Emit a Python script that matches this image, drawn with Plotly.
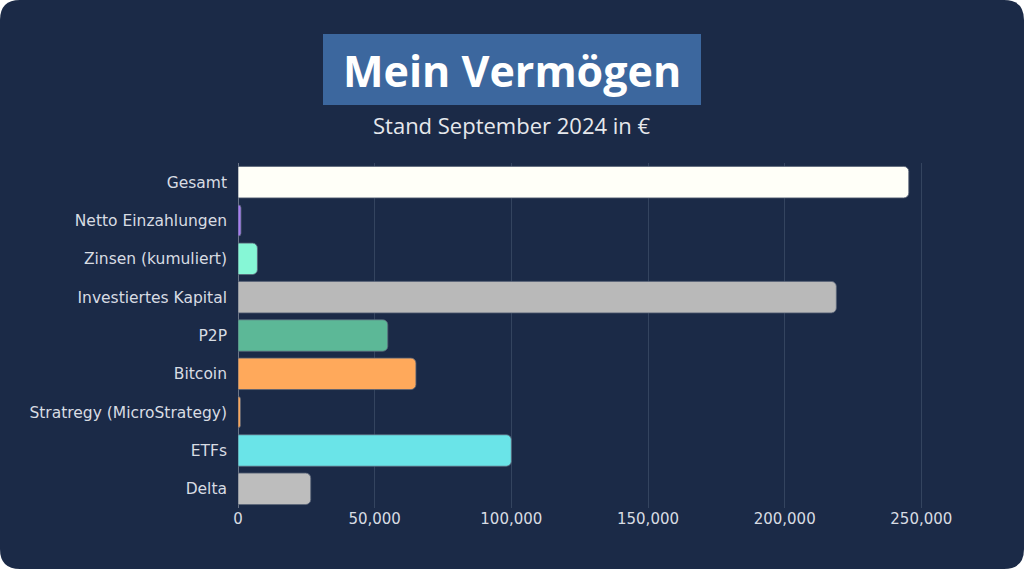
import plotly.graph_objects as go

# ---- data ----
categories = ["Gesamt", "Netto Einzahlungen", "Zinsen (kumuliert)", "Investiertes Kapital",
              "P2P", "Bitcoin", "Stratregy (MicroStrategy)", "ETFs", "Delta"]
values = [245400, 1100, 7100, 218900, 54800, 65100, 900, 100000, 26600]
bar_colors = ["#fffff8", "#a67df2", "#86f7d6", "#b9b9b9", "#5cb897",
              "#ffa95b", "#ffa95b", "#6ae4e8", "#bdbdbd"]
x_ticks = [0, 50000, 100000, 150000, 200000, 250000]
title_text = "Mein Vermögen"
subtitle_text = "Stand September 2024 in €"

W, H = 1024, 569
L, R, T, B = 238, 48, 163, 61
PW, PH = W - L - R, H - T - B
NAVY = "#1b2a47"
FONT = "Open Sans"
TICKFONT = "DejaVu Sans"
TICKCOLOR = "#d8dce3"


def px(x):
    return (x - L) / PW


def py(y):
    return (H - B - y) / PH


fig = go.Figure(go.Bar(
    x=values, y=categories, orientation="h",
    marker=dict(color=bar_colors, cornerradius=5,
                line=dict(color="rgba(90,100,120,0.8)", width=1)),
    width=0.82,
    hoverinfo="x+y",
))

# rounded background
r = 20
x0, x1, y0, y1 = 0, W, 0, H
pts = (
    f"M {px(x0 + r)} {py(y0)} L {px(x1 - r)} {py(y0)} "
    f"Q {px(x1)} {py(y0)} {px(x1)} {py(y0 + r)} "
    f"L {px(x1)} {py(y1 - r)} Q {px(x1)} {py(y1)} {px(x1 - r)} {py(y1)} "
    f"L {px(x0 + r)} {py(y1)} Q {px(x0)} {py(y1)} {px(x0)} {py(y1 - r)} "
    f"L {px(x0)} {py(y0 + r)} Q {px(x0)} {py(y0)} {px(x0 + r)} {py(y0)} Z"
)
shapes = [
    dict(type="path", xref="paper", yref="paper", path=pts,
         fillcolor=NAVY, line=dict(width=0), layer="below"),
    dict(type="rect", xref="paper", yref="paper",
         x0=px(323), x1=px(701), y0=py(105), y1=py(34),
         fillcolor="#3c679e", line=dict(width=0), layer="below"),
]

annotations = [
    dict(text=f"<b>{title_text}</b>", xref="paper", yref="paper",
         x=px(512), y=py(70), xanchor="center", yanchor="middle",
         showarrow=False, font=dict(family=FONT, size=43, color="#ffffff")),
    dict(text=subtitle_text, xref="paper", yref="paper",
         x=px(512), y=py(125), xanchor="center", yanchor="middle",
         showarrow=False, font=dict(family=FONT, size=22, color="#e6e8ec")),
]

fig.update_layout(
    width=W, height=H,
    margin=dict(l=L, r=R, t=T, b=B, pad=0),
    paper_bgcolor="#ffffff",
    plot_bgcolor="rgba(0,0,0,0)",
    shapes=shapes,
    annotations=annotations,
    showlegend=False,
    bargap=0.18,
    font=dict(family=TICKFONT, size=15, color=TICKCOLOR),
    xaxis=dict(range=[0, 270000], tickvals=x_ticks, tickformat=",",
               showgrid=True, gridcolor="#34445f", gridwidth=1,
               zeroline=True, zerolinecolor="#6b7588", zerolinewidth=1,
               showline=False, ticks="", tickfont=dict(family=TICKFONT, size=15, color=TICKCOLOR),
               fixedrange=True),
    yaxis=dict(autorange="reversed", showgrid=False, ticks="",
               ticklabelstandoff=10, tickfont=dict(family=TICKFONT, size=15.5, color=TICKCOLOR),
               fixedrange=True),
)

fig.write_html("out.html", config={"displayModeBar": False},
               post_script="document.body.style.margin='0';document.body.style.padding='0';")
